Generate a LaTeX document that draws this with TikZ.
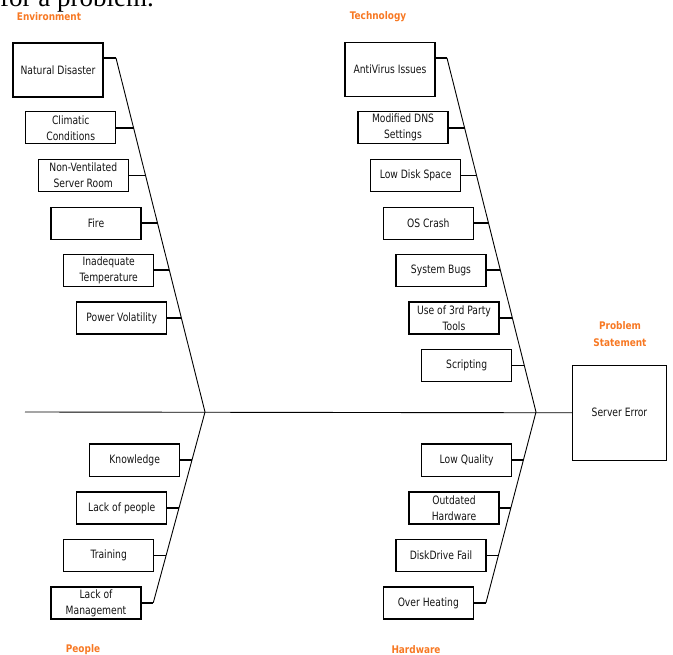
\documentclass[tikz,border=0pt]{standalone}
\usepackage{fontspec}
\setmainfont{DejaVu Sans}[FakeStretch=0.8]
\newfontfamily\lblfont{DejaVu Sans}[FakeStretch=0.85]
\newfontfamily\serifx{Liberation Serif}
\usetikzlibrary{calc}
\definecolor{lblorange}{RGB}{247,120,35}
\definecolor{boxtext}{RGB}{20,20,20}
\newcommand\linkto[3]{\draw[conn] let \p1=(#1.east), \p2=(#2), \p3=(#3) in (#1.east) -- ({\x2+(\y1-\y2)/(\y3-\y2)*(\x3-\x2)},\y1);}
\begin{document}
\begin{tikzpicture}[x=1pt,y=-1pt,
  box/.style={draw, line width=1.4pt, minimum width=90pt, minimum height=32pt, inner sep=1pt, align=center, text=boxtext, font=\fontsize{11.5}{16}\selectfont},
  bigbox/.style={box, minimum height=54pt},
  conn/.style={line width=1.6pt},
  bone/.style={line width=0.9pt},
  lbl/.style={text=lblorange, align=center, font=\lblfont\bfseries\fontsize{10.5}{17.5}\selectfont}]
\useasboundingbox (0,0) rectangle (673,655);
\clip (0,0) rectangle (673,655);
\node[anchor=base west, inner sep=0pt, font=\serifx\fontsize{27}{27}\selectfont] (cap) at (0,7) {for a problem.};
% labels
\node[lbl] (env) at (49,17) {Environment};
\node[lbl] (tech) at (378,17) {Technology};
\node[lbl] (ps) at (620,334) {Problem\\Statement};
\node[lbl] (ppl) at (83,650) {People};
\node[lbl] (hw) at (416,650) {Hardware};
% spine coordinates
\coordinate (S0) at (25,412);
\coordinate (LT) at (116,58);
\coordinate (LJ) at (205,412);
\coordinate (LB) at (153.3,602.7);
\coordinate (RT) at (447,58);
\coordinate (RJ) at (536,412);
\coordinate (RB) at (486,602.7);
% problem
\node[box, minimum width=94pt, minimum height=95pt] (se) at (619.5,412.8) {Server Error};
% environment
\node[bigbox] (nd) at (58,70) {Natural Disaster};
\node[box] (cc) at (70.7,127.8) {Climatic\\Conditions};
\node[box] (nv) at (83.3,175.5) {Non-Ventilated\\Server Room};
\node[box] (fi) at (96,223.3) {Fire};
\node[box] (it) at (108.7,270.3) {Inadequate\\Temperature};
\node[box] (pv) at (121.7,318) {Power Volatility};
% technology
\node[bigbox] (av) at (390,69.5) {AntiVirus Issues};
\node[box] (dns) at (403,127.8) {Modified DNS\\Settings};
\node[box] (lds) at (415.7,175.5) {Low Disk Space};
\node[box] (os) at (428.3,223.3) {OS Crash};
\node[box] (sb) at (441,270.3) {System Bugs};
\node[box] (ut) at (454,318) {Use of 3rd Party\\Tools};
\node[box] (sc) at (466.7,365.5) {Scripting};
% people
\node[box] (kn) at (134.7,460.2) {Knowledge};
\node[box] (lp) at (121.7,508) {Lack of people};
\node[box] (tr) at (108.7,555.3) {Training};
\node[box] (lm) at (96,603) {Lack of\\Management};
% hardware
\node[box] (lq) at (466.7,460.2) {Low Quality};
\node[box] (oh) at (454,508) {Outdated\\Hardware};
\node[box] (df) at (441,555.3) {DiskDrive Fail};
\node[box] (ov) at (428.3,603) {Over Heating};
% bones
\draw[bone] (S0) -- (se.west);
\draw[bone] (LT) -- (LJ) -- (LB);
\draw[bone] (RT) -- (RJ) -- (RB);
% connectors
\draw[conn] (nd.east |- LT) -- (LT);
\draw[conn] (av.east |- RT) -- (RT);
\linkto{cc}{LT}{LJ}
\linkto{nv}{LT}{LJ}
\linkto{fi}{LT}{LJ}
\linkto{it}{LT}{LJ}
\linkto{pv}{LT}{LJ}
\linkto{dns}{RT}{RJ}
\linkto{lds}{RT}{RJ}
\linkto{os}{RT}{RJ}
\linkto{sb}{RT}{RJ}
\linkto{ut}{RT}{RJ}
\linkto{sc}{RT}{RJ}
\linkto{kn}{LJ}{LB}
\linkto{lp}{LJ}{LB}
\linkto{tr}{LJ}{LB}
\linkto{lm}{LJ}{LB}
\linkto{lq}{RJ}{RB}
\linkto{oh}{RJ}{RB}
\linkto{df}{RJ}{RB}
\linkto{ov}{RJ}{RB}
\end{tikzpicture}
\end{document}
